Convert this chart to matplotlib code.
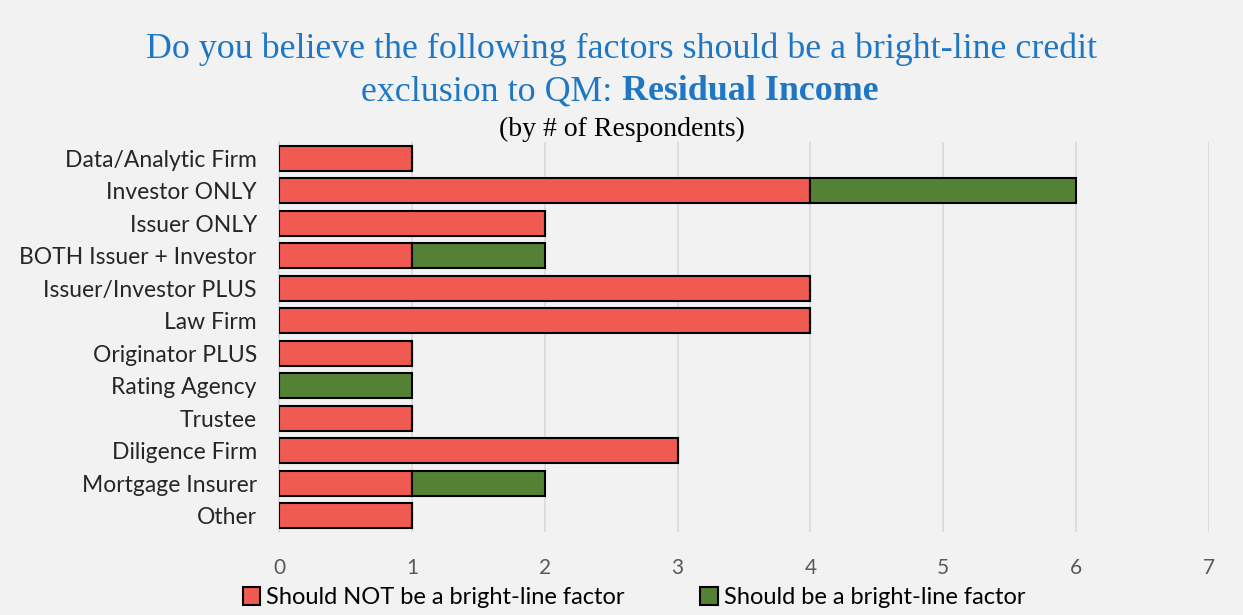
import numpy as np
from matplotlib import pyplot as plt

# respondent counts per firm type
categories = ["Data/Analytic Firm", "Investor ONLY", "Issuer ONLY", "BOTH Issuer + Investor",
              "Issuer/Investor PLUS", "Law Firm", "Originator PLUS", "Rating Agency",
              "Trustee", "Diligence Firm", "Mortgage Insurer", "Other"]
should_not = [1, 4, 2, 1, 4, 4, 1, 0, 1, 3, 1, 1]
should_be = [0, 2, 0, 1, 0, 0, 0, 1, 0, 0, 1, 0]
series_names = ["Should NOT be a bright-line factor", "Should be a bright-line factor"]

bg = "#F2F2F2"
red = "#F05A50"
green = "#548235"
title_blue = "#1F77C4"

fig = plt.figure(figsize=(12.43, 6.15), dpi=100, facecolor=bg)
ax = fig.add_axes([0.2245, 0.135, 0.7482, 0.634])
ax.set_facecolor(bg)

y = np.arange(len(categories))
ax.barh(y, should_not, height=0.77, color=red, edgecolor="black", linewidth=1.5,
        label=series_names[0], zorder=3)
ax.barh(y, should_be, left=should_not, height=0.77, color=green, edgecolor="black",
        linewidth=1.5, label=series_names[1], zorder=3)

ax.set_ylim(len(categories) - 0.5, -0.5)
ax.set_xlim(0, 7)
ax.set_xticks(range(8))
ax.set_yticks(y)
ax.set_yticklabels(categories, fontsize=16.5, color="#262626", family="Lato")
for lbl in ax.get_xticklabels():
    lbl.set_family("Lato")
ax.tick_params(axis="x", labelsize=15, labelcolor="#595959", length=0, pad=19)
ax.tick_params(axis="y", length=0, pad=16)
ax.grid(axis="x", color="#D9D9D9", linewidth=1.2, zorder=0)
for s in ["top", "right", "bottom"]:
    ax.spines[s].set_visible(False)
ax.spines["left"].set_color("#D9D9D9")
ax.spines["left"].set_linewidth(1.2)

fig.text(0.5, 0.92, "Do you believe the following factors should be a bright-line credit",
         ha="center", va="center", fontsize=25.8, color=title_blue, family="Liberation Serif")
t1 = fig.text(0.5, 0.851, "exclusion to QM: ", ha="right", va="center", fontsize=25.8,
              color=title_blue, family="Liberation Serif")
fig.text(0.5, 0.851, "Residual Income", ha="left", va="center", fontsize=25.8,
         color=title_blue, family="Liberation Serif", weight="bold")
fig.text(0.5, 0.79, "(by # of Respondents)", ha="center", va="center", fontsize=20,
         color="black", family="Liberation Serif")

leg = fig.legend(loc="center", bbox_to_anchor=(0.51, 0.028), ncol=2, frameon=False,
                 handlelength=0.75, handleheight=0.75, handletextpad=0.25,
                 columnspacing=3.2, prop={"family": "Lato", "size": 17})

plt.savefig("out.png", dpi=100, facecolor=bg)
